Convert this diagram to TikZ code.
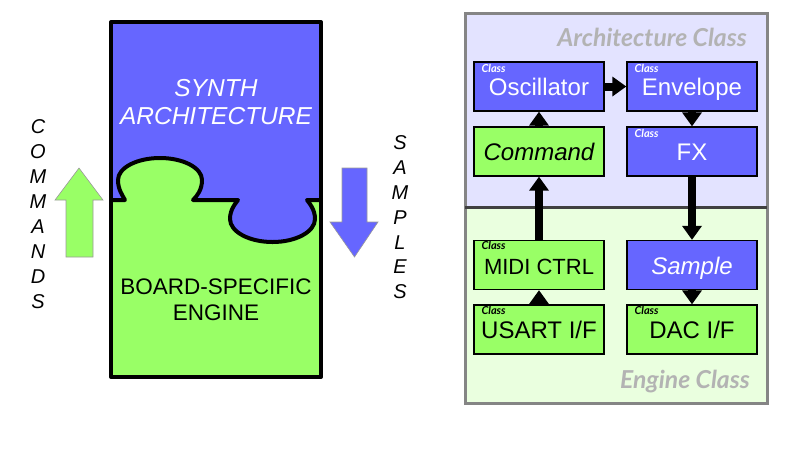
\documentclass[tikz,border=0pt]{standalone}
\usepackage{fontspec}
\setmainfont{Liberation Sans}
\newfontfamily\lato{Lato}
\usetikzlibrary{arrows.meta}
\definecolor{pblue}{HTML}{6666FF}
\definecolor{pgreen}{HTML}{99FF66}
\definecolor{archbg}{HTML}{E3E3FF}
\definecolor{engbg}{HTML}{EAFFDF}
\definecolor{classgray}{HTML}{B3B3B3}
\definecolor{framegray}{HTML}{858585}
\definecolor{divgray}{HTML}{404040}
\begin{document}
\begin{tikzpicture}[x=1pt,y=-1pt,
  box/.style={draw=black,line width=1.3pt,minimum width=130pt,minimum height=49pt,inner sep=0pt,
    text height=18pt,text depth=0pt,font=\fontsize{24}{28}\selectfont},
  bluebox/.style={box,fill=pblue,text=white},
  greenbox/.style={box,fill=pgreen,text=black},
  tag/.style={font=\lato\bfseries\itshape\fontsize{11}{12}\selectfont,anchor=west,inner sep=0pt},
  flow/.style={line width=8pt,-{Triangle[length=14pt,width=19pt]}},
  region/.style={font=\lato\bfseries\itshape\fontsize{24.7}{26}\selectfont,text=classgray,anchor=east,inner sep=0pt},
  vertword/.style={align=center,font=\itshape\fontsize{20}{25}\selectfont,inner sep=0pt},
  bigarrow/.style={draw=gray!80,line width=0.6pt},
  puzzletext/.style={align=center,inner sep=0pt}]
\useasboundingbox (0,0) rectangle (800,448);
% ---------- left: puzzle ----------
\fill[pgreen] (111,22) rectangle (321,377);
\fill[pblue] (111,22) -- (321,22) -- (321,200) -- (307,200)
  .. controls (309,203) and (315,209) .. (315,219)
  .. controls (315,231.7) and (296,242) .. (272.5,242)
  .. controls (249,242) and (230,231.7) .. (230,219)
  .. controls (230,209) and (236,203) .. (238,200)
  -- (193,200)
  .. controls (197,196) and (202,190) .. (202,180)
  .. controls (202,167.8) and (183.2,158) .. (160,158)
  .. controls (136.8,158) and (118,167.8) .. (118,180)
  .. controls (118,190) and (123,196) .. (125,200)
  -- (111,200) -- cycle;
\draw[line width=4pt,line join=round] (111,200) -- (125,200)
  .. controls (123,196) and (118,190) .. (118,180)
  .. controls (118,167.8) and (136.8,158) .. (160,158)
  .. controls (183.2,158) and (202,167.8) .. (202,180)
  .. controls (202,190) and (197,196) .. (193,200)
  -- (238,200)
  .. controls (236,203) and (230,209) .. (230,219)
  .. controls (230,231.7) and (249,242) .. (272.5,242)
  .. controls (296,242) and (315,231.7) .. (315,219)
  .. controls (315,209) and (309,203) .. (307,200)
  -- (321,200);
\draw[line width=4pt,line join=round] (111,22) rectangle (321,377);
\node[puzzletext,text=white,font=\itshape\fontsize{24.5}{28}\selectfont] (synth) at (216,102) {SYNTH\\ARCHITECTURE};
\node[puzzletext,font=\fontsize{22.5}{26}\selectfont] (board) at (216,300) {BOARD-SPECIFIC\\ENGINE};
% side arrows
\draw[bigarrow,fill=pgreen] (66,257) -- (66,200) -- (55,200) -- (79,168) -- (103,200) -- (93,200) -- (93,257) -- cycle;
\draw[bigarrow,fill=pblue] (342,168) -- (367,168) -- (367,222) -- (378,222) -- (354.5,257) -- (330,222) -- (342,222) -- cycle;
\node[vertword] (cmds) at (38,214.5) {C\\O\\M\\M\\A\\N\\D\\S};
\node[vertword,font=\itshape\fontsize{20}{24.8}\selectfont] (smps) at (400,217.5) {S\\A\\M\\P\\L\\E\\S};
% ---------- right: classes ----------
\fill[archbg] (465,13) rectangle (767,207);
\fill[engbg] (465,207) rectangle (767,403);
\draw[framegray,line width=3pt] (465,13) rectangle (767,403);
\draw[divgray,line width=3pt] (465,207) -- (767,207);
\node[region] (archlbl) at (747,37) {Architecture Class};
\node[region] (englbl) at (750,382) {Engine Class};
\node[bluebox] (osc) at (539,86.5) {Oscillator};
\node[bluebox] (env) at (692,86.5) {Envelope};
\node[greenbox,font=\itshape\fontsize{24}{28}\selectfont] (cmd) at (539,151.5) {Command};
\node[bluebox] (fx) at (692,151.5) {FX};
\node[greenbox,font=\fontsize{22}{26}\selectfont] (midi) at (539,265) {MIDI CTRL};
\node[bluebox,font=\itshape\fontsize{24}{28}\selectfont] (smp) at (692,265) {Sample};
\node[greenbox] (usart) at (539,329.5) {USART I/F};
\node[greenbox] (dac) at (692,329.5) {DAC I/F};
\node[tag,text=white] (tosc) at ([xshift=8pt,yshift=-7pt]osc.north west) {Class};
\node[tag,text=white] (tenv) at ([xshift=8pt,yshift=-7pt]env.north west) {Class};
\node[tag,text=white] (tfx) at ([xshift=8pt,yshift=-7pt]fx.north west) {Class};
\node[tag] (tmidi) at ([xshift=8pt,yshift=-6pt]midi.north west) {Class};
\node[tag] (tusart) at ([xshift=8pt,yshift=-6pt]usart.north west) {Class};
\node[tag] (tdac) at ([xshift=8pt,yshift=-6pt]dac.north west) {Class};
\draw[flow] (osc.east) -- (env.west);
\draw[flow] (env.south) -- (fx.north);
\draw[flow] (cmd.north) -- (osc.south);
\draw[flow] (midi.north) -- (cmd.south);
\draw[flow] (fx.south) -- (smp.north);
\draw[flow] (usart.north) -- (midi.south);
\draw[flow] (smp.south) -- (dac.north);
\end{tikzpicture}
\end{document}
